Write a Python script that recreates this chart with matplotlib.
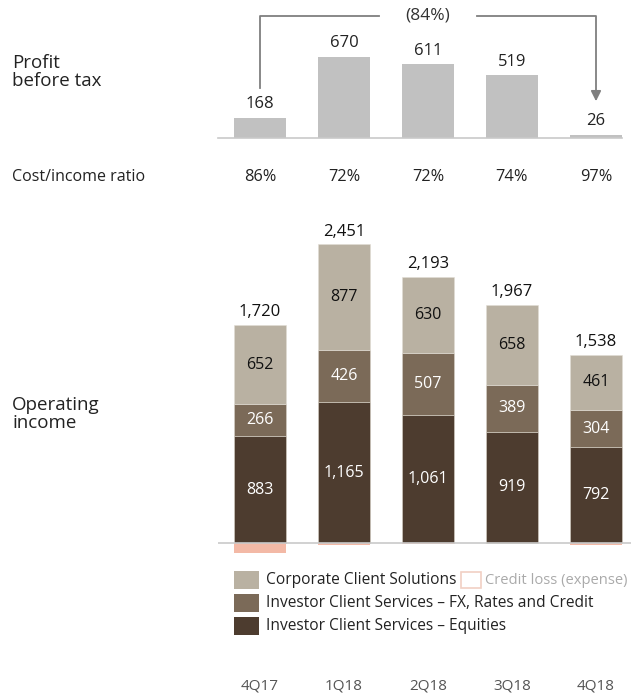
import matplotlib
matplotlib.use("Agg")
import matplotlib.pyplot as plt
from matplotlib.patches import Rectangle

plt.rcParams['font.family'] = ['Open Sans', 'DejaVu Sans']

quarters = ["4Q17", "1Q18", "2Q18", "3Q18", "4Q18"]
profit_before_tax = [168, 670, 611, 519, 26]
cost_income = ["86%", "72%", "72%", "74%", "97%"]
ccs = [652, 877, 630, 658, 461]
ics_fx = [266, 426, 507, 389, 304]
ics_eq = [883, 1165, 1061, 919, 792]
credit_loss = [-81, -17, -5, 1, -19]
totals = ["1,720", "2,451", "2,193", "1,967", "1,538"]
eq_labels = ["883", "1,165", "1,061", "919", "792"]
change_label = "(84%)"

c_ccs = "#b9b1a2"
c_fx = "#7b6a58"
c_eq = "#4d3c2f"
c_pbt = "#c1c1c1"
c_cl = "#f3b9a6"
c_base = "#c9c9c9"

W, H = 631, 697
fig = plt.figure(figsize=(W / 100, H / 100), dpi=100)
scale = 0.121  # px per unit

def ax_at(px_left, px_right, px_top, px_bottom):
    return fig.add_axes([px_left / W, 1 - px_bottom / H, (px_right - px_left) / W, (px_bottom - px_top) / H])

x = list(range(len(quarters)))
xl = (-0.5, (631 - 260) / 84)
bw = 0.62

# ---------- Profit before tax ----------
ax1 = ax_at(218, 631, 0, 138)
ax1.set_xlim(*xl)
ax1.set_ylim(0, 138 / scale)
ax1.bar(x, profit_before_tax, width=bw, color=c_pbt, zorder=2)
ax1.plot([-0.5, (622 - 260) / 84], [0, 0], color=c_base, lw=1.2, clip_on=False, zorder=3)
for i, v in enumerate(profit_before_tax):
    ax1.text(i, v + 45, str(v), ha="center", va="bottom", fontsize=12, color="#222222")
ax1.axis("off")

# bracket arrow
ytop = (138 - 16) / scale
ax1.plot([0, 0, 1.42], [(138 - 88) / scale, ytop, ytop], color="#7f7f7f", lw=1.3, clip_on=False)
ax1.plot([2.58, 4, 4], [ytop, ytop, (138 - 98) / scale], color="#7f7f7f", lw=1.3, clip_on=False)
ax1.annotate("", xy=(4, (138 - 104) / scale), xytext=(4, (138 - 92) / scale),
             arrowprops=dict(arrowstyle="-|>,head_length=0.6,head_width=0.3", color="#7f7f7f", lw=1.3),
             annotation_clip=False)
ax1.text(2, ytop, change_label, ha="center", va="center", fontsize=12.5, color="#333333")

fig.text(12 / W, 1 - 72 / H, "Profit\nbefore tax", ha="left", va="center", fontsize=13.5, color="#222222", linespacing=1.05)

# ---------- Cost/income ----------
fig.text(12 / W, 1 - 177 / H, "Cost/income ratio", ha="left", va="center", fontsize=11.5, color="#222222")
for i, t in enumerate(cost_income):
    fig.text((260 + 84 * i) / W, 1 - 177 / H, t, ha="center", va="center", fontsize=11.8, color="#222222")

# ---------- Operating income ----------
ax2 = ax_at(218, 631, 200, 560)
ax2.set_xlim(*xl)
ax2.set_ylim(-17 / scale, 343 / scale)
ax2.bar(x, ics_eq, width=bw, color=c_eq, edgecolor="#d8d2c8", linewidth=0.4, zorder=2)
ax2.bar(x, ics_fx, width=bw, bottom=ics_eq, color=c_fx, edgecolor="#d8d2c8", linewidth=0.4, zorder=2)
b2 = [a + b for a, b in zip(ics_eq, ics_fx)]
ax2.bar(x, ccs, width=bw, bottom=b2, color=c_ccs, edgecolor="#e2ddd5", linewidth=0.4, zorder=2)
ax2.bar(x, [min(c, 0) for c in credit_loss], width=bw, color=c_cl, zorder=2)
ax2.plot([-0.5, xl[1]], [0, 0], color=c_base, lw=1.2, zorder=3)
for i in x:
    ax2.text(i, ics_eq[i] / 2, eq_labels[i], ha="center", va="center", fontsize=11.5, color="white", zorder=4)
    ax2.text(i, ics_eq[i] + ics_fx[i] / 2, str(ics_fx[i]), ha="center", va="center", fontsize=11.5, color="white", zorder=4)
    ax2.text(i, b2[i] + ccs[i] / 2, str(ccs[i]), ha="center", va="center", fontsize=11.5, color="#111111", zorder=4)
    ax2.text(i, b2[i] + ccs[i] + 40, totals[i], ha="center", va="bottom", fontsize=12, color="#111111", zorder=4)
ax2.axis("off")

fig.text(12 / W, 1 - 414 / H, "Operating\nincome", ha="left", va="center", fontsize=13.5, color="#222222", linespacing=1.05)

# ---------- Legend ----------
leg = [(c_ccs, "Corporate Client Solutions", 580),
       (c_fx, "Investor Client Services \u2013 FX, Rates and Credit", 603),
       (c_eq, "Investor Client Services \u2013 Equities", 626)]
for col, lab, py in leg:
    fig.patches.append(Rectangle((234 / W, 1 - (py + 9) / H), 25 / W, 18 / H, transform=fig.transFigure,
                                 facecolor=col, edgecolor="none"))
    fig.text(266 / W, 1 - py / H, lab, ha="left", va="center", fontsize=11.2, color="#222222")
fig.patches.append(Rectangle((461 / W, 1 - (580 + 8) / H), 20 / W, 16 / H, transform=fig.transFigure,
                             facecolor="white", edgecolor="#f1d0c4", lw=1.2))
fig.text(485 / W, 1 - 580 / H, "Credit loss (expense)", ha="left", va="center", fontsize=10.6, color="#aaaaaa")

# ---------- x labels ----------
for i, q in enumerate(quarters):
    fig.text((260 + 84 * i) / W, 1 - 686 / H, q, ha="center", va="center", fontsize=11, color="#555555")

fig.savefig("out.png", dpi=100)
